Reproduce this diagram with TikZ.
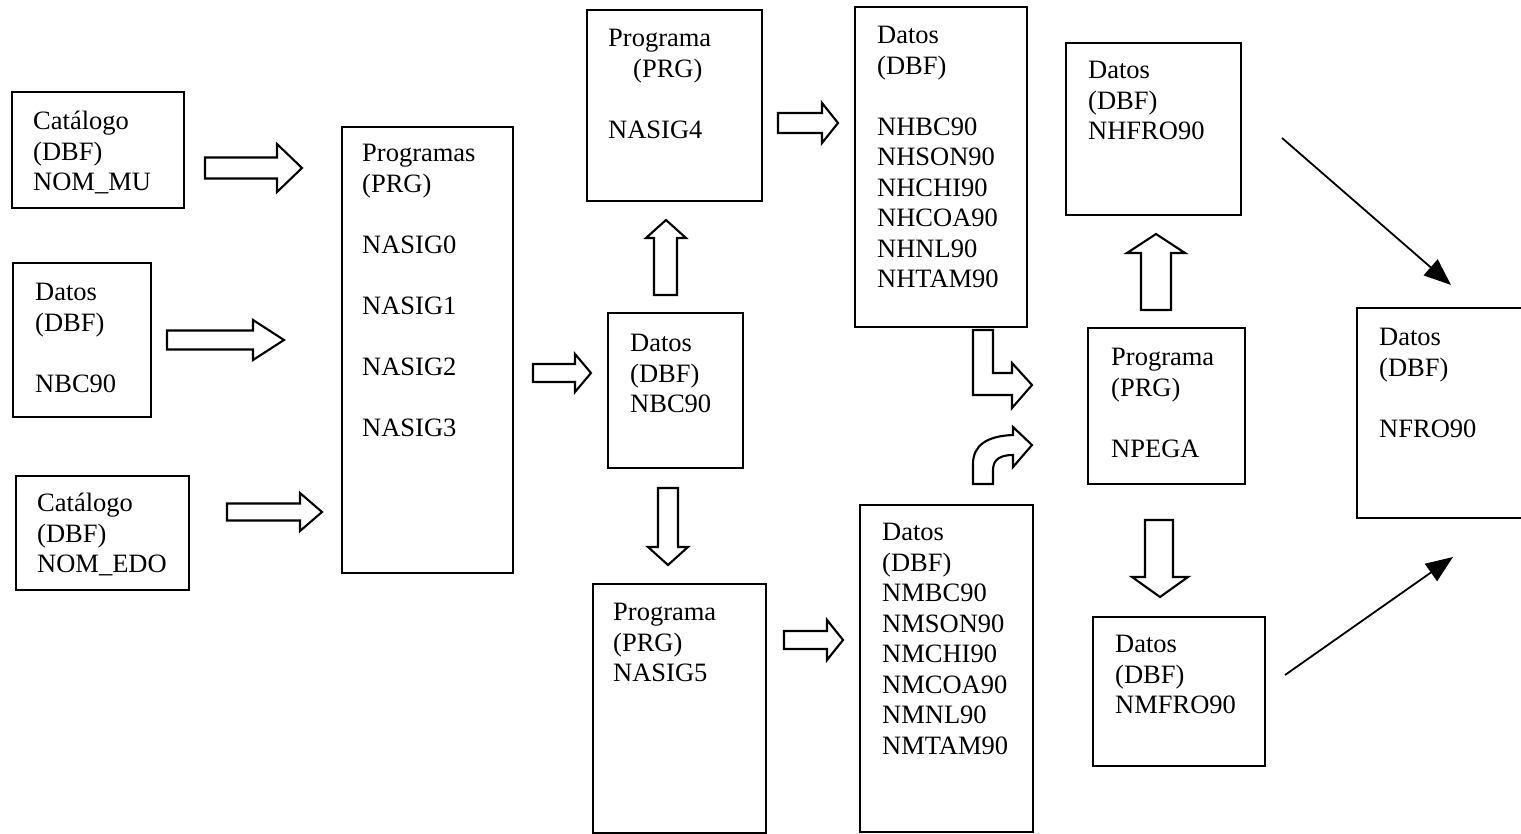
\documentclass[tikz,border=0pt]{standalone}
\usepackage{fontspec}
\setmainfont{Liberation Serif}
\usetikzlibrary{arrows.meta}
\tikzset{
  box/.style={draw, line width=2.2pt, anchor=north west, inner sep=0pt, outer sep=0pt},
  lbl/.style={anchor=north west, inner sep=0pt, align=left, font=\fontsize{26.5}{30.5}\selectfont},
  blk/.style={draw, fill=white, line width=2.1pt, line join=miter},
  lnarrow/.style={line width=1.8pt, -{Triangle[length=27pt,width=21pt]}}
}
% right block arrow: tail x, head-start x, tip x, centre y, shaft half, head half
\newcommand\myrarrow[6]{\draw[blk] ({#1},{#4-#5}) -- ({#2},{#4-#5}) -- ({#2},{#4-#6}) -- ({#3},{#4}) -- ({#2},{#4+#6}) -- ({#2},{#4+#5}) -- ({#1},{#4+#5}) -- cycle;}
% vertical block arrow: shaft x1, shaft x2, head x1, head x2, tip x, tip y, head base y, end y
\newcommand\myvarrow[8]{\draw[blk] ({#1},{#8}) -- ({#1},{#7}) -- ({#3},{#7}) -- ({#5},{#6}) -- ({#4},{#7}) -- ({#2},{#7}) -- ({#2},{#8}) -- cycle;}
\begin{document}
\begin{tikzpicture}[x=1pt,y=-1pt]
\useasboundingbox (0,0) rectangle (1521,834);

% boxes
\node[box, minimum width=172pt, minimum height=116pt] (catmu) at (12,92) {};
\node[box, minimum width=138pt, minimum height=154pt] (datnbc) at (13,263) {};
\node[box, minimum width=173pt, minimum height=114pt] (catedo) at (16,476) {};
\node[box, minimum width=171pt, minimum height=446pt] (progs) at (342,127) {};
\node[box, minimum width=175pt, minimum height=191pt] (nasig4) at (587,10) {};
\node[box, minimum width=135pt, minimum height=155pt] (datmid) at (608,313) {};
\node[box, minimum width=173pt, minimum height=249pt] (nasig5) at (593,584) {};
\node[box, minimum width=172pt, minimum height=320pt] (nh) at (855,7) {};
\node[box, minimum width=173pt, minimum height=327pt] (nm) at (860,505) {};
\node[box, minimum width=175pt, minimum height=172pt] (nhfro) at (1066,43) {};
\node[box, minimum width=157pt, minimum height=156pt] (npega) at (1088,328) {};
\node[box, minimum width=172pt, minimum height=149pt] (nmfro) at (1093,617) {};
\node[box, minimum width=200pt, minimum height=210pt] (nfro) at (1357,308) {};

% texts
\node[lbl] (catmu-t) at (33,111) {Catálogo\\(DBF)\\NOM\_MU};
\node[lbl] (datnbc-t) at (35,283) {Datos\\(DBF)\\[30.5pt]NBC90};
\node[lbl] (catedo-t) at (37,493) {Catálogo\\(DBF)\\NOM\_EDO};
\node[lbl] (progs-t) at (362,144) {Programas\\(PRG)\\[30.5pt]NASIG0\\[30.5pt]NASIG1\\[30.5pt]NASIG2\\[30.5pt]NASIG3};
\node[lbl] (nasig4-t) at (608,29) {Programa\\\hspace*{25pt}(PRG)\\[30.5pt]NASIG4};
\node[lbl] (datmid-t) at (630,334) {Datos\\(DBF)\\NBC90};
\node[lbl] (nasig5-t) at (613,603) {Programa\\(PRG)\\NASIG5};
\node[lbl] (nh-t) at (877,26) {Datos\\(DBF)\\[30.5pt]NHBC90\\NHSON90\\NHCHI90\\NHCOA90\\NHNL90\\NHTAM90};
\node[lbl] (nm-t) at (882,523) {Datos\\(DBF)\\NMBC90\\NMSON90\\NMCHI90\\NMCOA90\\NMNL90\\NMTAM90};
\node[lbl] (nhfro-t) at (1088,61) {Datos\\(DBF)\\NHFRO90};
\node[lbl] (npega-t) at (1111,348) {Programa\\(PRG)\\[30.5pt]NPEGA};
\node[lbl] (nmfro-t) at (1115,635) {Datos\\(DBF)\\NMFRO90};
\node[lbl] (nfro-t) at (1379,328) {Datos\\(DBF)\\[30.5pt]NFRO90};

% right block arrows
\myrarrow{205}{277}{302}{168}{10.5}{24}
\myrarrow{167}{253}{284}{340}{9.5}{20}
\myrarrow{227}{300}{322}{512}{8.5}{19}
\myrarrow{533}{575}{591}{373}{9}{19}
\myrarrow{778}{822}{838}{123}{10}{20}
\myrarrow{784}{827}{843}{640}{9}{20}

% vertical block arrows
\myvarrow{654}{677}{646}{686}{666}{220}{238}{295}
\myvarrow{1141}{1171}{1127}{1185}{1156}{234}{253}{310}
\myvarrow{658}{678}{648}{688}{668}{565}{547}{488}
\myvarrow{1145}{1173}{1132}{1188}{1160}{597}{577}{520}

% bent arrow (L shape)
\draw[blk] (973,330) -- (993,330) -- (993,373) -- (1012,373) -- (1012,363) -- (1032,385)
  -- (1012,408) -- (1012,395) -- (973,395) -- cycle;
% curved arrow
\draw[blk] (973,484) -- (973,464) .. controls (973,446) and (986,436) .. (1013,435)
  -- (1013,427) -- (1032,445) -- (1013,467) -- (1013,455)
  .. controls (1001,455) and (993,459) .. (993,470) -- (993,484) -- cycle;

% line arrows
\coordinate (a1) at (1282,138);
\coordinate (a2) at (1451,285);
\coordinate (b1) at (1285,675);
\coordinate (b2) at (1453,557);
\draw[lnarrow] (a1) -- (a2);
\draw[lnarrow] (b1) -- (b2);
\end{tikzpicture}
\end{document}
